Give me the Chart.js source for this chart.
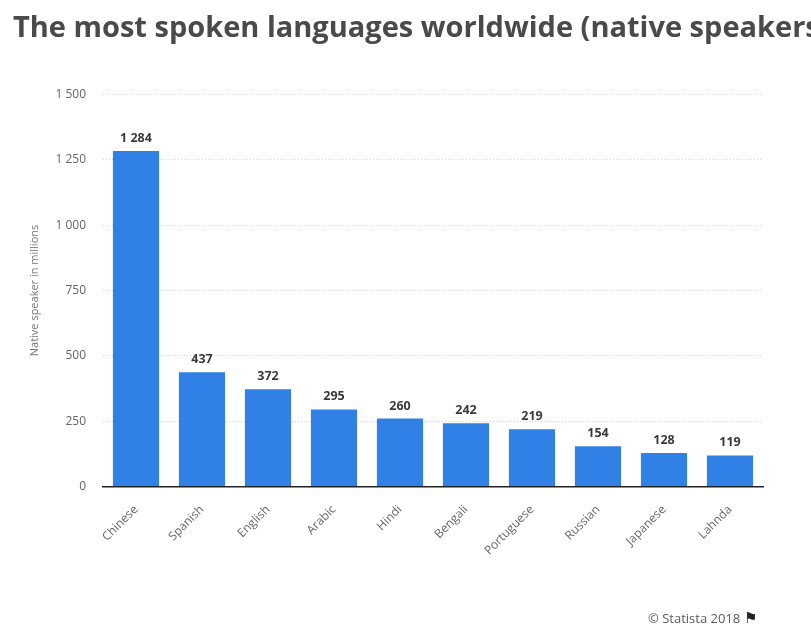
<!DOCTYPE html>
<html>
<head>
<meta charset="utf-8">
<script src="https://cdn.jsdelivr.net/npm/chart.js@4.4.0/dist/chart.umd.min.js"></script>
<style>
  html, body { margin: 0; padding: 0; background: #ffffff; overflow: hidden; }
  #wrap { position: relative; width: 811px; height: 637px; overflow: hidden; }
  #title { position: absolute; left: 13px; top: 11px; line-height: 30px; white-space: nowrap; font-family: "Open Sans", sans-serif; font-weight: 700; font-size: 29px; color: #4a4a4a; }
  #footer { position: absolute; left: 648px; top: 607px; white-space: nowrap; font-family: "Open Sans", sans-serif; font-size: 13px; color: #5a5a5a; }
  #cv { position: absolute; left: 0; top: 0; }
</style>
</head>
<body>
<div id="wrap">
  <canvas id="cv" width="811" height="637"></canvas>
  <div id="title">The most spoken languages worldwide (native speakers in millions)</div>
  <div id="footer">© Statista 2018 <span style="color:#222;font-size:15px">⚑</span></div>
</div>
<script>
const categories = ["Chinese", "Spanish", "English", "Arabic", "Hindi", "Bengali", "Portuguese", "Russian", "Japanese", "Lahnda"];
const speakers = [1284, 437, 372, 295, 260, 242, 219, 154, 128, 119];
const yTicks = [0, 250, 500, 750, 1000, 1250, 1500];
const yTitle = "Native speaker in millions";

function fmt(v) {
  return String(v).replace(/\B(?=(\d{3})+(?!\d))/g, " ");
}

const labelPlugin = {
  id: 'barLabels',
  afterDatasetsDraw(chart) {
    const ctx = chart.ctx;
    const meta = chart.getDatasetMeta(0);
    ctx.save();
    ctx.font = '700 12.5px "Open Sans", sans-serif';
    ctx.fillStyle = '#3a3a3a';
    ctx.textAlign = 'center';
    ctx.textBaseline = 'alphabetic';
    meta.data.forEach((bar, i) => {
      ctx.fillText(fmt(chart.data.datasets[0].data[i]), bar.x, bar.y - 9);
    });
    ctx.restore();
  }
};

new Chart(document.getElementById('cv'), {
  type: 'bar',
  data: {
    labels: categories,
    datasets: [{
      data: speakers,
      backgroundColor: '#3180e6',
      borderWidth: 0,
      categoryPercentage: 1,
      barPercentage: 0.7
    }]
  },
  options: {
    responsive: false,
    animation: false,
    devicePixelRatio: 1,
    layout: { padding: { top: 94.5, right: 48, bottom: 0, left: 0 } },
    plugins: { legend: { display: false }, tooltip: { enabled: false }, title: { display: false } },
    scales: {
      x: {
        grid: { display: false, drawTicks: false },
        border: { display: true, color: '#222', width: 1.5 },
        ticks: {
          minRotation: 45, maxRotation: 45, padding: 16,
          color: '#666', font: { family: '"Open Sans", sans-serif', size: 12 }
        },
        afterFit(s) { s.height = 150.5; }
      },
      y: {
        min: 0, max: 1500,
        afterBuildTicks(s) { s.ticks = yTicks.map(v => ({ value: v })); },
        grid: { color: '#d6d6d6', drawTicks: false },
        border: { display: false, dash: [1, 2] },
        ticks: {
          padding: 17, color: '#666',
          font: { family: '"Open Sans", sans-serif', size: 12 },
          callback: v => fmt(v)
        },
        title: {
          display: true, text: yTitle, color: '#777',
          font: { family: '"Open Sans", sans-serif', size: 11 },
          padding: { top: 28, bottom: 0 }
        },
        afterFit(s) { s.width = 103; }
      }
    }
  },
  plugins: [labelPlugin]
});
</script>
</body>
</html>
